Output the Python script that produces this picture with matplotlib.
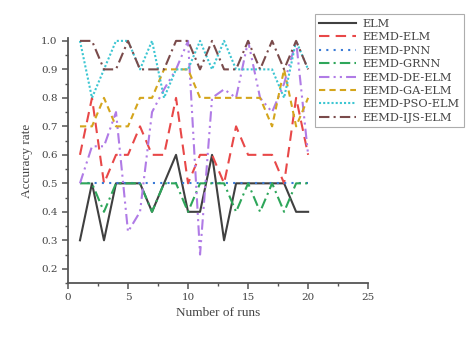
import matplotlib
matplotlib.use("Agg")
import matplotlib.pyplot as plt
from matplotlib.ticker import MultipleLocator

runs = list(range(1, 21))
elm = [0.3, 0.5, 0.3, 0.5, 0.5, 0.5, 0.4, 0.5, 0.6, 0.4, 0.4, 0.6, 0.3, 0.5, 0.5, 0.5, 0.5, 0.5, 0.4, 0.4]
eemd_elm = [0.6, 0.8, 0.5, 0.6, 0.6, 0.7, 0.6, 0.6, 0.8, 0.5, 0.6, 0.6, 0.5, 0.7, 0.6, 0.6, 0.6, 0.5, 0.8, 0.6]
eemd_pnn = [0.5] * 20
eemd_grnn = [0.5, 0.5, 0.4, 0.5, 0.5, 0.5, 0.4, 0.5, 0.5, 0.4, 0.5, 0.5, 0.5, 0.4, 0.5, 0.4, 0.5, 0.4, 0.5, 0.5]
eemd_de = [0.5, 0.63, 0.63, 0.75, 0.33, 0.4, 0.75, 0.83, 0.9, 1.0, 0.25, 0.8, 0.83, 0.8, 1.0, 0.8, 0.75, 0.85, 1.0, 0.6]
eemd_ga = [0.7, 0.7, 0.8, 0.7, 0.7, 0.8, 0.8, 0.9, 0.9, 0.9, 0.8, 0.8, 0.8, 0.8, 0.8, 0.8, 0.7, 0.9, 0.7, 0.8]
eemd_pso = [1.0, 0.8, 0.9, 1.0, 1.0, 0.9, 1.0, 0.8, 0.9, 0.9, 1.0, 0.9, 1.0, 0.9, 0.9, 0.9, 0.9, 0.8, 1.0, 0.9]
eemd_ijs = [1.0, 1.0, 0.9, 0.9, 1.0, 0.9, 0.9, 0.9, 1.0, 1.0, 0.9, 1.0, 0.9, 0.9, 1.0, 0.9, 1.0, 0.9, 1.0, 0.9]

labels = ["ELM", "EEMD-ELM", "EEMD-PNN", "EEMD-GRNN", "EEMD-DE-ELM",
          "EEMD-GA-ELM", "EEMD-PSO-ELM", "EEMD-IJS-ELM"]
series = [elm, eemd_elm, eemd_pnn, eemd_grnn, eemd_de, eemd_ga, eemd_pso, eemd_ijs]
colors = ["#404040", "#e84848", "#3a7ad6", "#2ea65a", "#b07be6", "#d4a51c", "#3cc6d2", "#7a4b4b"]
styles = ["-", (0, (5, 3)), (0, (1, 2.5)), (0, (5, 2, 1, 2)), (0, (5, 2, 1, 2, 1, 2)),
          (0, (3, 2)), (0, (1, 1)), (0, (5, 2, 1, 2))]

plt.rcParams['font.family'] = ['Liberation Serif', 'DejaVu Serif']
fig = plt.figure(figsize=(4.72, 3.49), dpi=100)
ax = fig.add_axes([0.144, 0.189, 0.636, 0.702])

for y, lab, c, ls in zip(series, labels, colors, styles):
    ax.plot(runs, y, color=c, linestyle=ls, linewidth=1.5, label=lab)

ax.set_xlim(0, 25)
ax.set_ylim(0.15, 1.01)
ax.xaxis.set_major_locator(MultipleLocator(5))
ax.xaxis.set_minor_locator(MultipleLocator(2.5))
ax.yaxis.set_minor_locator(MultipleLocator(0.05))
yt = [0.2, 0.3, 0.4, 0.5, 0.6, 0.7, 0.8, 0.9, 1.0]
ax.set_yticks(yt)
ax.set_yticklabels([f"{v:.1f}" for v in yt])

for s in ["top", "right"]:
    ax.spines[s].set_visible(False)
for s in ["left", "bottom"]:
    ax.spines[s].set_color("#555555")
    ax.spines[s].set_linewidth(1.3)
ax.tick_params(which="major", direction="out", length=4, width=1.1, colors="#555555",
               labelsize=8, labelcolor="#444444")
ax.tick_params(which="minor", direction="out", length=2.5, width=1.0, colors="#555555")
for t in ax.get_xticklabels() + ax.get_yticklabels():
    t.set_fontfamily(['DejaVu Serif'])
    t.set_fontsize(7.5)

ax.set_xlabel("Number of runs", fontsize=9.5, color="#444444", labelpad=3)
ax.set_ylabel("Accuracy rate", fontsize=9.5, color="#444444", labelpad=6)

leg = fig.legend(loc="upper left", bbox_to_anchor=(0.655, 0.975),
                 prop={'family': ['DejaVu Serif'], 'size': 8.2},
                 frameon=True, fancybox=False, edgecolor="#999999",
                 handlelength=3.2, labelspacing=0.3, borderpad=0.4, handletextpad=0.6)
leg.get_frame().set_linewidth(0.8)
for t in leg.get_texts():
    t.set_color("#444444")

fig.savefig("out.png", dpi=100)
